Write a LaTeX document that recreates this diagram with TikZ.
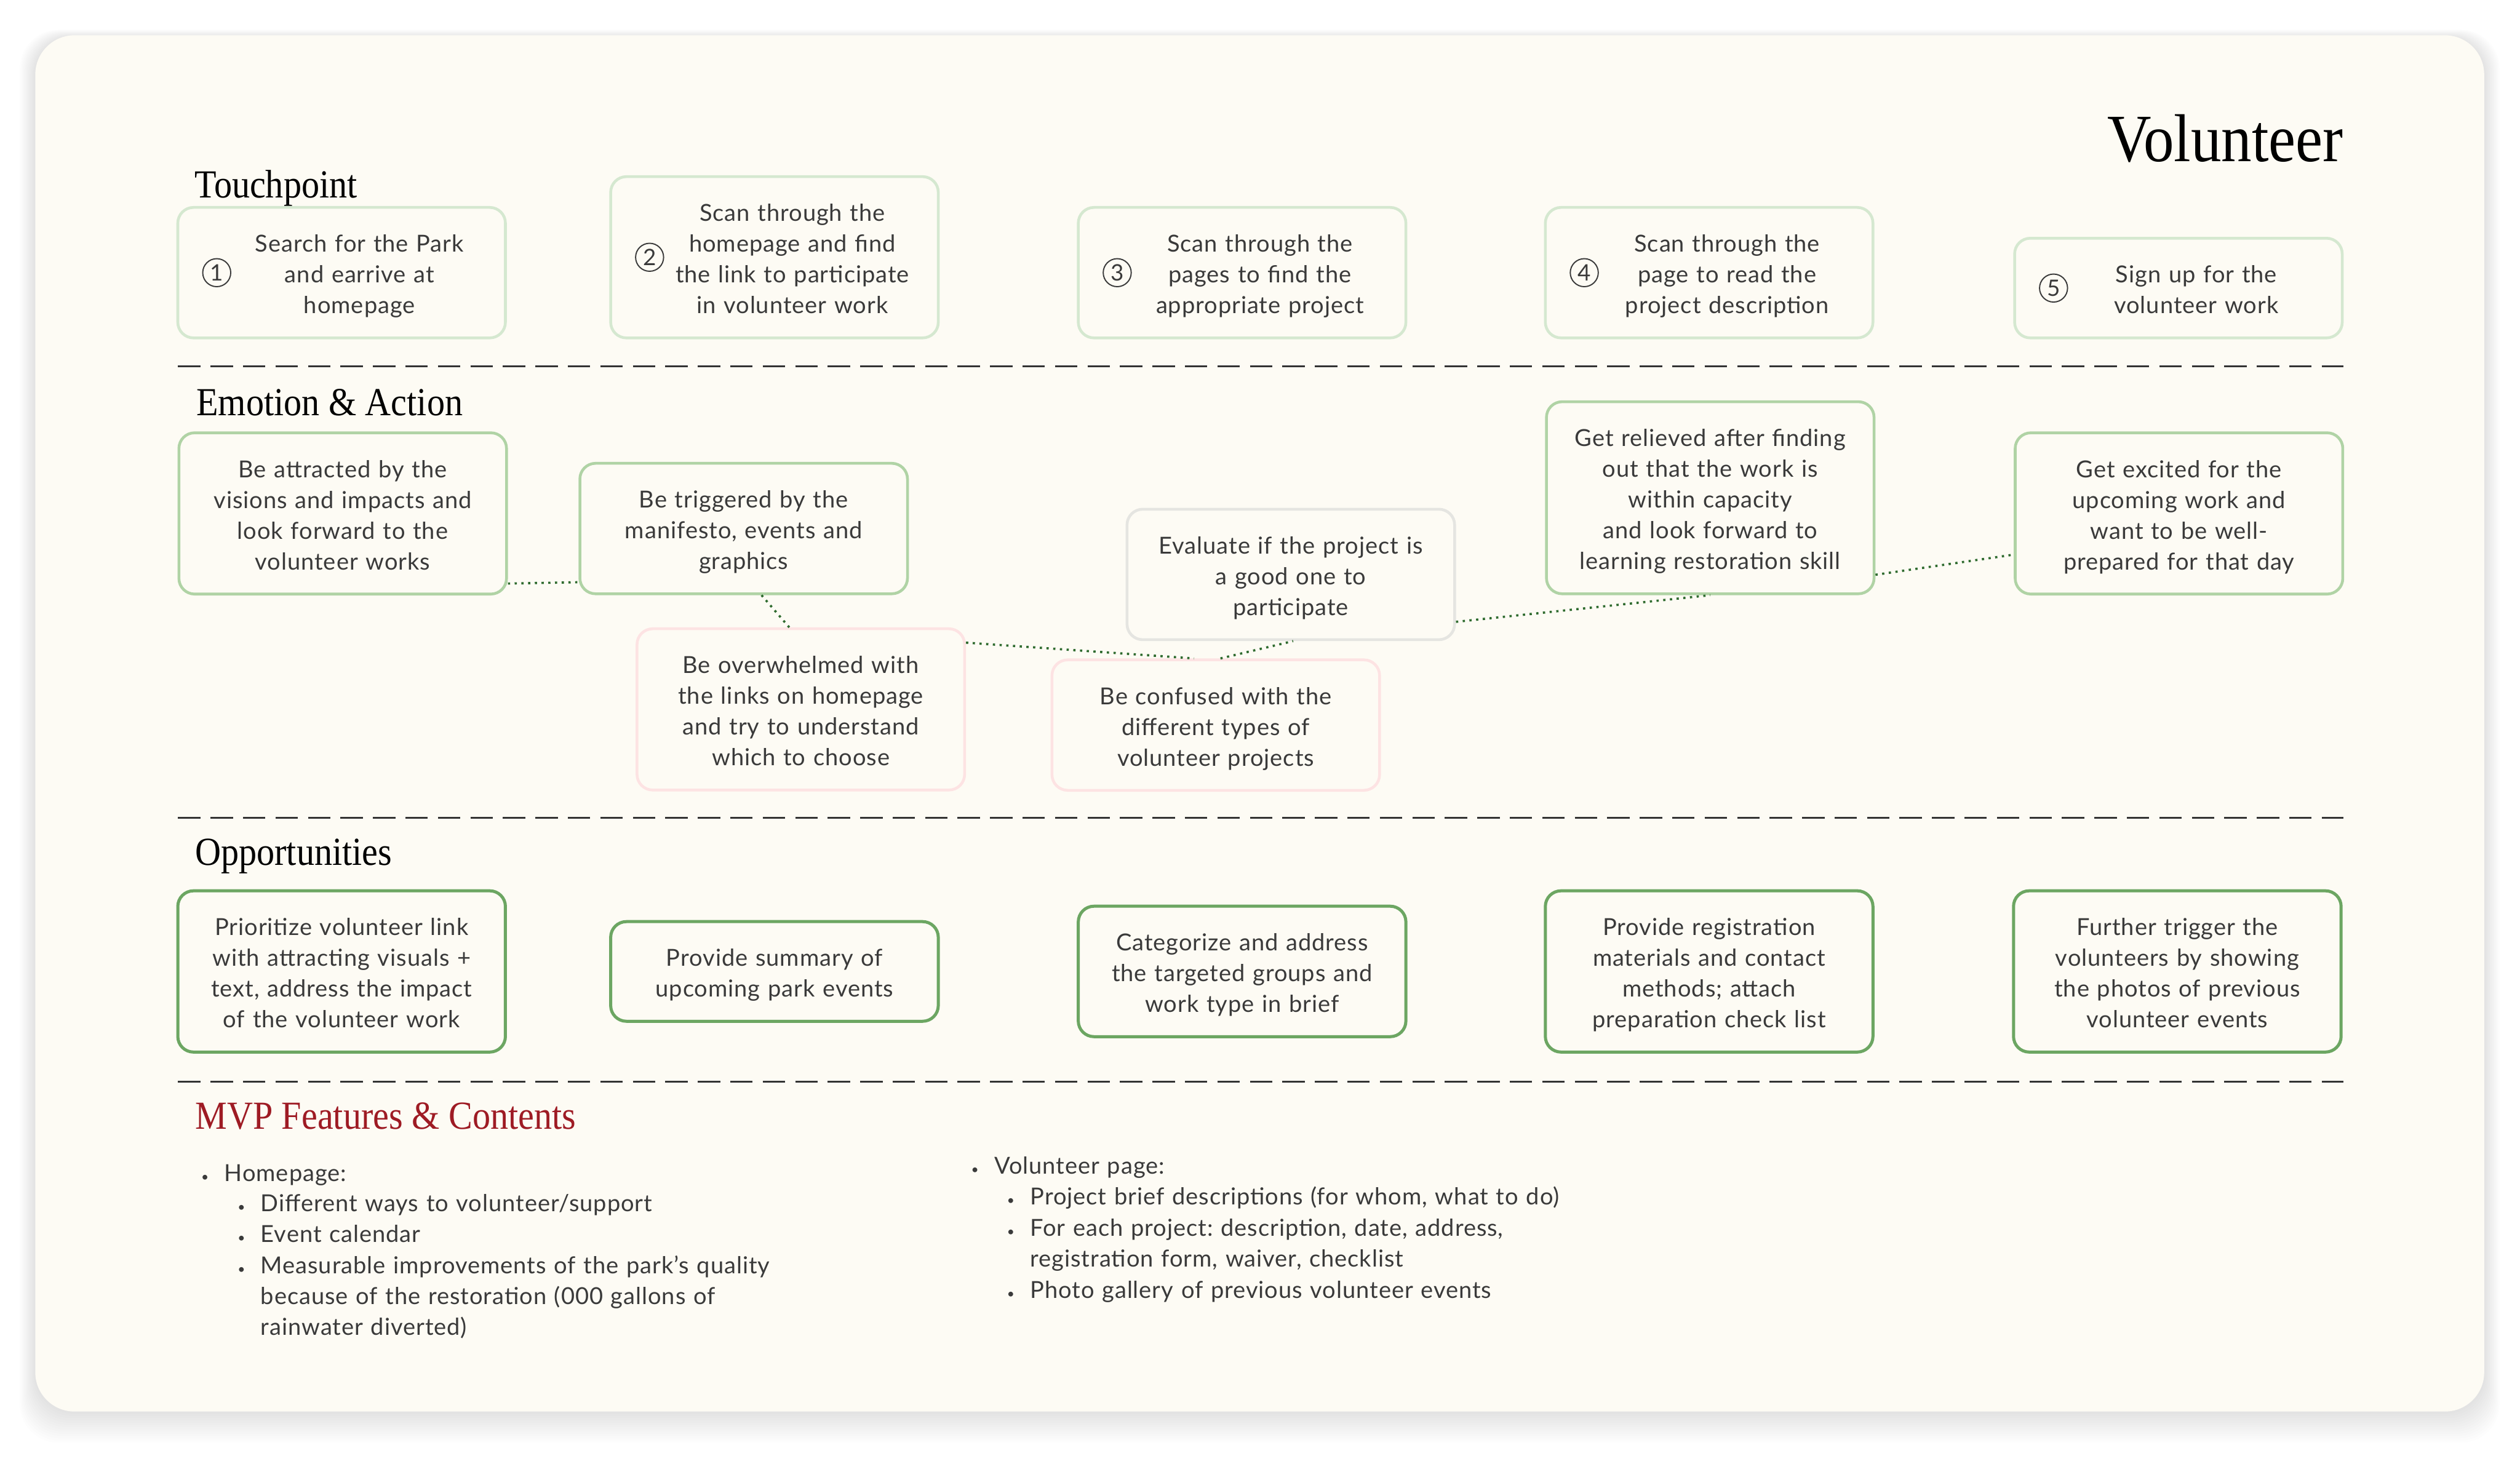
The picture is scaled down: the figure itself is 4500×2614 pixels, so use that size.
\documentclass[tikz,border=0pt]{standalone}
\usepackage{fontspec}
\setmainfont{Lato}[LetterSpace=2.5]
\newfontfamily\headfont[FakeStretch=0.9]{Liberation Serif}
\usetikzlibrary{calc}
\definecolor{cardbg}{HTML}{FDFBF4}
\definecolor{tpG}{HTML}{D5E8D0}
\definecolor{emoG}{HTML}{B0D3A5}
\definecolor{emoR}{HTML}{FDE3E3}
\definecolor{emoN}{HTML}{E5E5E1}
\definecolor{oppG}{HTML}{6CA662}
\definecolor{lnkG}{HTML}{2F6B2F}
\definecolor{mvpR}{HTML}{9E1B24}
\definecolor{ink}{HTML}{3A3A3A}
\newcommand{\topstrut}{\rule[-0.17\baselineskip]{0pt}{\baselineskip}}
\tikzset{
  card/.style={rounded corners=0.28cm, line width=0.5mm, fill=cardbg, text=ink,
    text width=5.45cm, align=center, inner xsep=2mm, inner ysep=3.4mm,
    font=\fontsize{11.9}{15.65}\selectfont,
    execute at begin node=\topstrut, execute at end node=\topstrut},
  tpbox/.style={card, draw=tpG, anchor=south,
    execute at begin node={\advance\leftskip by 0.64cm\topstrut}},
  emobox/.style={card, draw=emoG},
  worrybox/.style={card, draw=emoR},
  neutbox/.style={card, draw=emoN},
  oppbox/.style={card, draw=oppG, line width=0.55mm},
  num/.style={circle, draw=ink, line width=0.6pt, minimum size=0.5cm, inner sep=0pt,
    text=ink, font=\fontsize{11.5}{12}\selectfont},
  sect/.style={anchor=base west, inner sep=0pt, text=black,
    font=\headfont\fontsize{20.2}{24}\selectfont},
  link/.style={draw=lnkG, line width=0.4mm, dash pattern=on 0.4mm off 0.8mm},
  sep/.style={draw=black!80, line width=1pt, dash pattern=on 4mm off 1.8mm},
  mvp/.style={anchor=base west, inner sep=0pt, text=ink, text width=11cm, align=left,
    font=\fontsize{11.9}{15.65}\selectfont},
}
\newcommand{\mvpdot}{\llap{\scalebox{0.55}{\textbullet}\hspace{2.8mm}}}
\frenchspacing
\begin{document}
\begin{tikzpicture}[x=0.1mm, y=-0.1mm]
\useasboundingbox (0,0) rectangle (4500,2614);
\fill[white] (0,0) rectangle (4500,2614);
% soft shadow and card
\foreach \k in {1,...,14}
  \fill[black, opacity=0.008, rounded corners=0.7cm]
    ({63-2*\k},{63-\k+4}) rectangle ({4436+2*\k},{2521+4*\k});
\fill[cardbg, rounded corners=0.7cm] (63,63) rectangle (4436,2521);
% titles
\node[anchor=base east, inner sep=0pt, font=\headfont\fontsize{34.4}{40}\selectfont] (title) at (4185,288) {Volunteer};
\node[sect] (hTouch) at (347,353) {Touchpoint};
\node[sect] (hEmo) at (350,742) {Emotion \& Action};
\node[sect] (hOpp) at (348,1545) {Opportunities};
\node[sect, text=mvpR] (hMvp) at (348,2016) {MVP Features \& Contents};
% separators
\draw[sep] (318,654) -- (4185,654);
\draw[sep] (318,1461) -- (4185,1461);
\draw[sep] (318,1932) -- (4185,1932);
% ====== touchpoints ======
\node[tpbox] (T1) at (610,606) {Search for the Park\\and earrive at\\homepage};
\node[tpbox] (T2) at (1383,606) {Scan through the\\homepage and find\\the link to participate\\in volunteer work};
\node[tpbox] (T3) at (2218,606) {Scan through the\\pages to find the\\appropriate project};
\node[tpbox] (T4) at (3052,606) {Scan through the\\page to read the\\project description};
\node[tpbox] (T5) at (3890,606) {Sign up for the\\volunteer work};
\node[num] (n1) at ($(T1.west)+(72,0)$) {1};
\node[num] (n2) at ($(T2.west)+(72,0)$) {2};
\node[num] (n3) at ($(T3.west)+(72,0)$) {3};
\node[num] (n4) at ($(T4.west)+(72,0)$) {4};
\node[num] (n5) at ($(T5.west)+(72,0)$) {5};
% ====== emotion & action ======
\node[emobox] (E1) at (612,917) {Be attracted by the\\visions and impacts and\\look forward to the\\volunteer works};
\node[emobox] (E2) at (1328,944) {Be triggered by the\\manifesto, events and\\graphics};
\node[worrybox] (E3) at (1430,1267) {Be overwhelmed with\\the links on homepage\\and try to understand\\which to choose};
\node[worrybox] (E4) at (2171,1295) {Be confused with the\\different types of\\volunteer projects};
\node[neutbox] (E5) at (2305,1026) {Evaluate if the project is\\a good one to\\participate};
\node[emobox] (E6) at (3054,889) {Get relieved after finding\\out that the work is\\within capacity\\and look forward to\\learning restoration skill};
\node[emobox] (E7) at (3891,917) {Get excited for the\\upcoming work and\\want to be well-\\prepared for that day};
% mood line
\draw[link] (E1.-23) -- (E2.-162);
\draw[link] (E2.-75) -- (E3.98);
\draw[link] (E3.22) -- (E4.108);
\draw[link] (E4.86) -- (E5.-88);
\draw[link] (E5.-16) -- (E6.south);
\draw[link] (E6.-25) -- (E7.-166);
% ====== opportunities ======
\node[oppbox] (O1) at (610,1735) {Prioritize volunteer link\\with attracting visuals +\\text, address the impact\\of the volunteer work};
\node[oppbox] (O2) at (1383,1735) {Provide summary of\\upcoming park events};
\node[oppbox] (O3) at (2218,1735) {Categorize and address\\the targeted groups and\\work type in brief};
\node[oppbox] (O4) at (3052,1735) {Provide registration\\materials and contact\\methods; attach\\preparation check list};
\node[oppbox] (O5) at (3888,1735) {Further trigger the\\volunteers by showing\\the photos of previous\\volunteer events};
% ====== MVP features ======
\node[mvp] (home) at (400,2110) {\mvpdot Homepage:};
\node[mvp] (home1) at (465,2164) {\mvpdot Different ways to volunteer/support};
\node[mvp] (home2) at (465,2219) {\mvpdot Event calendar};
\node[mvp] (home3) at (465,2275) {\mvpdot Measurable improvements of the park's quality\\because of the restoration (000 gallons of\\rainwater diverted)};
\node[mvp] (vol) at (1775,2097) {\mvpdot Volunteer page:};
\node[mvp] (vol1) at (1839,2152) {\mvpdot Project brief descriptions (for whom, what to do)};
\node[mvp] (vol2) at (1839,2208) {\mvpdot For each project: description, date, address,\\registration form, waiver, checklist};
\node[mvp] (vol3) at (1839,2319) {\mvpdot Photo gallery of previous volunteer events};
\end{tikzpicture}
\end{document}
